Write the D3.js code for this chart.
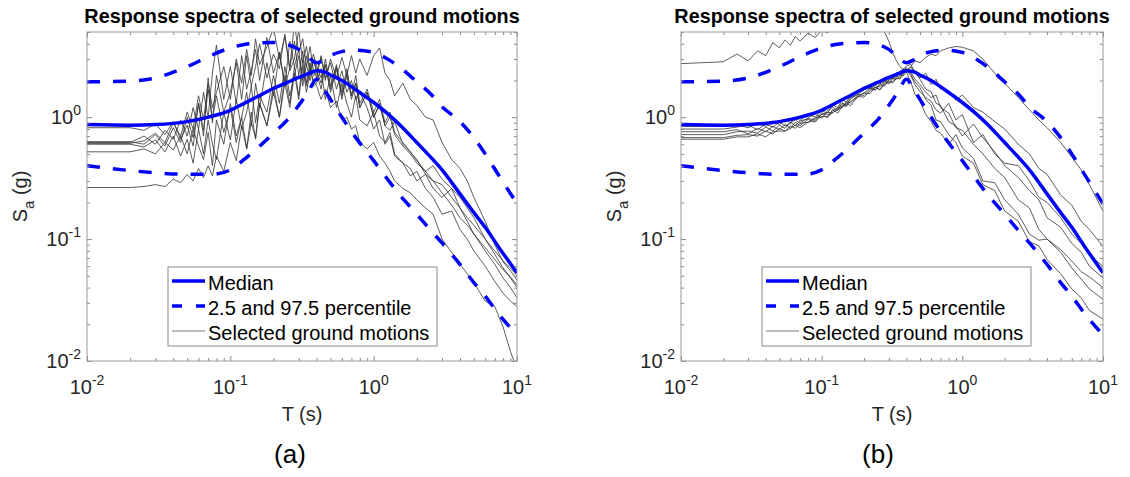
<!DOCTYPE html>
<html lang="en">
<head>
<meta charset="UTF-8">
<title>Response spectra of selected ground motions</title>
<script src="https://d3js.org/d3.v7.min.js"></script>
<style>
    body { margin: 0; background: #ffffff; }
    svg { display: block; font-family: "Liberation Sans", Arial, Helvetica, sans-serif; }
</style>
</head>
<body>
<div id="chart"></div>
<script>
// Periods (s) at which the record spectra of panel (a) are sampled
const periodsA = [0.01, 0.02, 0.025, 0.03, 0.035, 0.04, 0.045, 0.05, 0.055, 0.06,
    0.065, 0.07, 0.075, 0.08, 0.09, 0.1, 0.11, 0.12, 0.13, 0.14,
    0.15, 0.16, 0.18, 0.2, 0.22, 0.24, 0.26, 0.28, 0.3, 0.32,
    0.34, 0.36, 0.38, 0.4, 0.43, 0.46, 0.5, 0.55, 0.6, 0.65,
    0.7, 0.75, 0.8, 0.9, 1.0, 1.1, 1.2, 1.3, 1.4, 1.6,
    1.8, 2.0, 2.3, 2.6, 3.0, 3.5, 4.0, 4.5, 5.0, 6.0,
    7.0, 8.0, 9.0, 10.0];

// Periods (s) at which the record spectra of panel (b) are sampled
const periodsB = [0.01, 0.02, 0.025, 0.03, 0.035, 0.04, 0.045, 0.05, 0.055, 0.06,
    0.065, 0.07, 0.08, 0.09, 0.1, 0.11, 0.12, 0.13, 0.14, 0.15,
    0.16, 0.18, 0.2, 0.22, 0.24, 0.26, 0.28, 0.3, 0.32, 0.34,
    0.36, 0.38, 0.4, 0.43, 0.46, 0.5, 0.55, 0.6, 0.65, 0.7,
    0.8, 0.9, 1.0, 1.2, 1.4, 1.7, 2.0, 2.5, 3.0, 3.5,
    4.0, 5.0, 6.0, 7.0, 8.0, 10.0];

// Target spectrum (median and 2.5 / 97.5 percentiles)
const targetPeriods = [0.01, 0.02, 0.03, 0.05, 0.075, 0.1, 0.125, 0.15, 0.2, 0.25,
    0.3, 0.35, 0.4, 0.45, 0.5, 0.6, 0.75, 1, 1.25, 1.5,
    2, 2.5, 3, 4, 5, 6, 7.5, 10];
const medianSa = [0.87, 0.86, 0.87, 0.92, 1.02, 1.14, 1.30, 1.45, 1.72, 1.93,
    2.12, 2.28, 2.40, 2.36, 2.22, 2.0, 1.68, 1.32, 1.07, 0.88,
    0.62, 0.47, 0.37, 0.235, 0.165, 0.125, 0.085, 0.053];
const upperSa = [1.95, 1.98, 2.1, 2.6, 3.25, 3.7, 3.95, 4.05, 4.1, 3.95,
    3.6, 3.1, 2.8, 2.95, 3.2, 3.45, 3.55, 3.4, 3.0, 2.6,
    1.95, 1.55, 1.22, 0.92, 0.68, 0.5, 0.33, 0.195];
const lowerSa = [0.40, 0.365, 0.35, 0.34, 0.34, 0.37, 0.45, 0.54, 0.74, 0.95,
    1.25, 1.62, 2.05, 1.7, 1.4, 1.0, 0.68, 0.44, 0.31, 0.235,
    0.16, 0.118, 0.093, 0.062, 0.044, 0.034, 0.024, 0.0164];

// Selected ground motions, panel (a)
const motionsA = [
    [0.62,0.62,0.70,0.60,0.78,0.66,0.95,0.70,1.20,0.80, 1.60,1.00,2.30,3.90,1.40,2.60,1.30,3.20,1.70,2.40,
     3.60,2.00,4.50,2.30,3.40,1.80,4.20,2.60,3.60,2.00, 3.20,2.40,2.90,2.40,1.90,3.00,1.80,2.70,1.60,2.50,
     1.50,2.20,1.30,1.70,1.10,1.40,0.90,1.10,0.75,0.62, 0.52,0.45,0.34,0.30,0.24,0.19,0.15,0.13,0.11,0.085,
     0.068,0.056,0.049,0.042],
    [0.61,0.61,0.64,0.74,0.62,0.90,0.70,1.10,0.80,1.50, 0.95,1.90,1.20,1.60,2.60,1.40,3.00,1.90,3.60,2.20,
     4.40,2.70,3.80,5.40,3.00,4.60,2.60,5.80,3.40,4.40, 2.60,3.80,2.40,2.10,3.20,2.00,3.00,2.10,3.10,2.20,
     3.20,2.30,3.00,2.20,3.20,3.70,2.30,2.00,1.50,1.90, 1.40,1.25,1.00,0.95,0.62,0.45,0.38,0.30,0.22,0.14,
     0.09,0.065,0.055,0.046],
    [0.60,0.60,0.57,0.65,0.52,0.70,0.48,0.66,0.42,0.80, 0.50,0.95,0.60,0.45,1.10,0.65,1.40,0.80,1.10,1.80,
     0.90,1.50,1.10,2.20,1.30,2.60,1.50,2.20,3.20,1.80, 2.70,2.00,3.00,2.40,3.10,2.10,2.80,1.70,2.40,1.60,
     2.00,1.40,1.60,1.20,0.80,0.95,0.60,0.70,0.48,0.42, 0.33,0.36,0.26,0.22,0.16,0.17,0.12,0.10,0.08,0.06,
     0.045,0.036,0.031,0.028],
    [0.52,0.52,0.55,0.50,0.62,0.54,0.70,0.50,0.80,0.58, 0.45,0.75,0.40,0.95,0.60,1.30,0.70,1.00,1.60,0.85,
     1.90,1.20,2.80,1.50,3.40,1.80,2.50,4.20,2.20,3.50, 1.90,2.80,1.80,1.90,2.50,1.40,2.20,1.20,1.90,1.30,
     1.00,1.50,0.95,0.85,1.10,0.70,0.62,0.75,0.50,0.42, 0.38,0.30,0.34,0.26,0.22,0.26,0.18,0.14,0.11,0.08,
     0.062,0.048,0.040,0.033],
    [0.265,0.265,0.27,0.28,0.27,0.31,0.29,0.34,0.30,0.38, 0.32,0.40,0.33,0.48,0.36,0.62,0.44,0.85,0.55,1.10,
     0.66,1.30,0.85,1.60,1.00,1.90,1.20,2.30,1.40,2.60, 1.60,2.40,2.00,1.80,1.40,1.70,1.20,1.35,0.95,1.00,
     0.80,0.85,0.62,0.55,0.62,0.48,0.42,0.36,0.30,0.26, 0.24,0.21,0.18,0.16,0.10,0.078,0.062,0.052,0.044,0.031,
     0.028,0.019,0.012,0.0085],
    [0.63,0.63,0.60,0.72,0.58,0.82,0.62,1.00,0.68,1.30, 0.78,1.70,0.90,2.20,1.10,1.60,2.80,1.40,3.20,1.80,
     2.60,4.00,2.10,3.30,2.50,4.80,2.40,3.00,5.20,2.80, 3.80,2.40,3.30,2.60,2.10,2.70,1.70,2.60,1.50,2.30,
     1.40,1.90,1.20,1.60,1.00,1.30,0.85,0.78,0.92,0.60, 0.52,0.44,0.36,0.40,0.31,0.26,0.22,0.18,0.15,0.10,
     0.075,0.058,0.048,0.040],
    [0.82,0.82,0.78,0.88,0.72,0.92,0.66,0.86,0.58,1.30, 0.70,2.10,0.95,1.50,0.75,1.20,0.62,1.00,0.55,0.90,
     0.68,1.30,0.85,1.80,1.00,2.20,1.30,2.60,1.50,2.90, 1.80,2.50,2.20,2.30,1.70,2.70,1.60,2.50,1.40,2.20,
     1.50,1.90,1.20,1.60,1.00,1.25,0.85,1.00,0.72,0.58, 0.50,0.42,0.36,0.30,0.28,0.22,0.18,0.15,0.13,0.10,
     0.08,0.066,0.058,0.050]
];

// Selected ground motions, panel (b)
const motionsB = [
    [2.75,2.85,3.3,2.9,3.5,3.2,4.1,3.7,4.3,3.9, 4.6,4.2,4.9,4.5,5.2,4.9,5.5,5.3,5.8,6.2,
     6.5,7.0,6.8,6.5,6.5,6.0,5.0,4.2,3.4,2.9, 2.6,2.45,2.35,2.6,2.9,2.8,3.1,3.3,3.2,3.5,
     3.7,3.8,3.75,3.5,3.0,2.3,1.9,1.45,1.15,0.95, 0.82,0.62,0.47,0.37,0.28,0.17],
    [0.84,0.84,0.87,0.82,0.89,0.84,0.93,0.87,0.96,0.90, 0.99,0.94,1.06,1.00,1.13,1.08,1.26,1.20,1.39,1.33,
     1.50,1.64,1.78,1.72,1.96,1.90,2.05,2.15,2.05,2.32, 2.20,2.48,2.40,2.60,2.30,2.10,2.30,1.85,2.05,1.70,
     1.62,1.38,1.52,1.20,1.10,0.92,0.80,0.60,0.50,0.38, 0.34,0.23,0.19,0.14,0.12,0.087],
    [0.80,0.80,0.83,0.86,0.79,0.88,0.83,0.91,0.85,0.89, 0.95,0.89,0.99,1.06,0.98,1.13,1.21,1.13,1.31,1.26,
     1.44,1.53,1.68,1.78,1.68,1.88,1.98,1.88,2.08,2.18, 2.08,2.32,2.45,2.20,1.85,1.62,1.45,1.35,1.15,1.08,
     1.30,0.95,1.05,0.62,0.72,0.50,0.42,0.40,0.30,0.22, 0.20,0.15,0.11,0.092,0.074,0.060],
    [0.76,0.76,0.79,0.73,0.81,0.76,0.84,0.79,0.87,0.81, 0.91,0.85,0.96,0.91,1.06,0.99,1.16,1.08,1.23,1.31,
     1.24,1.46,1.58,1.56,1.76,1.68,1.92,1.98,1.96,2.14, 2.30,2.18,2.35,1.95,1.55,1.35,1.05,0.92,0.78,0.74,
     0.60,0.72,0.56,0.46,0.30,0.29,0.21,0.16,0.11,0.098, 0.10,0.082,0.066,0.054,0.049,0.040],
    [0.72,0.72,0.76,0.77,0.74,0.83,0.77,0.86,0.81,0.91, 0.85,0.93,0.97,0.96,1.09,1.04,1.13,1.19,1.19,1.34,
     1.31,1.48,1.46,1.64,1.76,1.68,1.86,1.93,1.91,2.08, 2.06,2.24,2.50,2.35,2.05,1.85,1.60,1.45,1.52,1.20,
     1.08,0.82,0.78,0.60,0.50,0.38,0.32,0.21,0.18,0.12, 0.10,0.078,0.058,0.047,0.039,0.032],
    [0.68,0.68,0.71,0.72,0.70,0.77,0.73,0.81,0.77,0.85, 0.81,0.89,0.91,0.99,1.01,1.01,1.09,1.16,1.24,1.23,
     1.34,1.49,1.58,1.73,1.66,1.86,1.80,2.02,2.08,2.06, 2.18,2.42,2.55,2.25,1.95,1.75,1.40,1.25,0.95,0.92,
     0.72,0.62,0.48,0.42,0.28,0.25,0.17,0.14,0.095,0.088, 0.068,0.052,0.039,0.033,0.026,0.022],
    [0.66,0.66,0.69,0.69,0.73,0.69,0.76,0.77,0.77,0.81, 0.86,0.82,0.91,0.94,1.06,1.09,1.09,1.19,1.29,1.24,
     1.41,1.54,1.51,1.69,1.81,1.77,1.96,2.04,2.21,2.14, 2.36,2.48,2.62,2.72,2.35,2.05,1.70,1.62,1.30,1.25,
     0.92,0.85,0.70,0.88,0.68,0.52,0.40,0.32,0.25,0.21, 0.15,0.125,0.092,0.078,0.060,0.048]
];

const xDomain = [0.01, 10];
const yDomain = [0.01, 5];
const xTickLabels = [0.01, 0.1, 1, 10];
const yTickLabels = [0.01, 0.1, 1];
const legendLabels = ["Median", "2.5 and 97.5 percentile", "Selected ground motions"];
const titleText = "Response spectra of selected ground motions";
const xAxisTitle = "T (s)";
const panelTags = ["(a)", "(b)"];

// Layout
const W = 1130, H = 477;
const plotTop = 32, plotBottom = 361;
const blue = "#0000ff";
const panels = [
    { left: 87, right: 517, periods: periodsA, motions: motionsA, tag: panelTags[0], tagX: 290 },
    { left: 681, right: 1103, periods: periodsB, motions: motionsB, tag: panelTags[1], tagX: 878 }
];

const svg = d3.select("#chart")
    .append("svg")
    .attr("width", W)
    .attr("height", H);

const isMajor = v => Math.abs(Math.log10(v) - Math.round(Math.log10(v))) < 1e-9;

panels.forEach((p, i) => {
    const x = d3.scaleLog().domain(xDomain).range([p.left, p.right]);
    const y = d3.scaleLog().domain(yDomain).range([plotBottom, plotTop]);
    const g = svg.append("g");

    g.append("clipPath").attr("id", "clip" + i)
        .append("rect")
        .attr("x", p.left).attr("y", plotTop)
        .attr("width", p.right - p.left).attr("height", plotBottom - plotTop);

    const plot = g.append("g").attr("clip-path", `url(#clip${i})`);
    const line = d3.line().x(d => x(d[0])).y(d => y(d[1]));
    const smooth = d3.line().x(d => x(d[0])).y(d => y(d[1])).curve(d3.curveMonotoneX);

    // ground motion spectra
    p.motions.forEach(rec => {
        plot.append("path")
            .datum(p.periods.map((t, k) => [t, rec[k]]))
            .attr("d", line)
            .attr("fill", "none")
            .attr("stroke", "#333333")
            .attr("stroke-width", 0.8)
            .attr("stroke-linejoin", "round");
    });

    // percentiles
    [upperSa, lowerSa].forEach(s => {
        plot.append("path")
            .datum(targetPeriods.map((t, k) => [t, s[k]]))
            .attr("d", smooth)
            .attr("fill", "none")
            .attr("stroke", blue)
            .attr("stroke-width", 3.5)
            .attr("stroke-dasharray", "13,13");
    });

    // median
    plot.append("path")
        .datum(targetPeriods.map((t, k) => [t, medianSa[k]]))
        .attr("d", smooth)
        .attr("fill", "none")
        .attr("stroke", blue)
        .attr("stroke-width", 3.5);

    // ticks on all four sides, pointing inward
    const xt = x.ticks(), yt = y.ticks();
    const tickAxis = (axis, vals, size, transform) => {
        g.append("g")
            .attr("transform", transform)
            .call(axis.tickValues(vals).tickSize(-size).tickFormat(""))
            .call(a => a.select(".domain").remove())
            .call(a => a.selectAll(".tick line").attr("stroke", "#8a8a8a"));
    };
    [[xt.filter(isMajor), 5], [xt.filter(v => !isMajor(v)), 3]].forEach(([vals, s]) => {
        tickAxis(d3.axisBottom(x), vals, s, `translate(0,${plotBottom})`);
        tickAxis(d3.axisTop(x), vals, s, `translate(0,${plotTop})`);
    });
    [[yt.filter(isMajor), 5], [yt.filter(v => !isMajor(v)), 3]].forEach(([vals, s]) => {
        tickAxis(d3.axisLeft(y), vals, s, `translate(${p.left},0)`);
        tickAxis(d3.axisRight(y), vals, s, `translate(${p.right},0)`);
    });

    // frame
    g.append("rect")
        .attr("x", p.left).attr("y", plotTop)
        .attr("width", p.right - p.left).attr("height", plotBottom - plotTop)
        .attr("fill", "none")
        .attr("stroke", "#9a9a9a")
        .attr("stroke-width", 1);

    // x tick labels
    xTickLabels.forEach(v => {
        const t = g.append("text")
            .attr("x", x(v)).attr("y", 394)
            .attr("text-anchor", "middle")
            .attr("fill", "#262626")
            .style("font-size", "20px");
        t.append("tspan").text("10");
        t.append("tspan").attr("dy", -9).style("font-size", "14px").text(Math.round(Math.log10(v)));
    });

    // y tick labels
    yTickLabels.forEach(v => {
        const t = g.append("text")
            .attr("x", p.left - 6).attr("y", y(v) + 7)
            .attr("text-anchor", "end")
            .attr("fill", "#262626")
            .style("font-size", "20px");
        t.append("tspan").text("10");
        t.append("tspan").attr("dy", -9).style("font-size", "14px").text(Math.round(Math.log10(v)));
    });

    // axis titles
    g.append("text")
        .attr("x", (p.left + p.right) / 2).attr("y", 421)
        .attr("text-anchor", "middle")
        .attr("fill", "#262626")
        .style("font-size", "20px")
        .text(xAxisTitle);

    const yl = g.append("text")
        .attr("transform", `translate(${p.left - 60},${(plotTop + plotBottom) / 2}) rotate(-90)`)
        .attr("text-anchor", "middle")
        .attr("fill", "#262626")
        .style("font-size", "20px");
    yl.append("tspan").text("S");
    yl.append("tspan").attr("dy", 7).style("font-size", "15px").text("a");
    yl.append("tspan").attr("dy", -7).text(" (g)");

    // title
    g.append("text")
        .attr("x", (p.left + p.right) / 2).attr("y", 22.5)
        .attr("text-anchor", "middle")
        .style("font-size", "19.8px")
        .style("font-weight", "bold")
        .text(titleText);

    // legend
    const lx = p.left + 81, ly = 267;
    const lg = g.append("g");
    lg.append("rect")
        .attr("x", lx).attr("y", ly)
        .attr("width", 269).attr("height", 79)
        .attr("fill", "#ffffff")
        .attr("stroke", "#8a8a8a")
        .attr("stroke-width", 1);
    const rows = [
        { stroke: blue, width: 3.5, dash: null },
        { stroke: blue, width: 3.5, dash: "10,14" },
        { stroke: "#555555", width: 0.8, dash: null }
    ];
    rows.forEach((r, k) => {
        const cy = ly + 14 + k * 25;
        lg.append("line")
            .attr("x1", lx + 4).attr("x2", lx + 37)
            .attr("y1", cy).attr("y2", cy)
            .attr("stroke", r.stroke)
            .attr("stroke-width", r.width)
            .attr("stroke-dasharray", r.dash);
        lg.append("text")
            .attr("x", lx + 40).attr("y", cy + 8.5)
            .style("font-size", "20px")
            .attr("fill", "#000")
            .text(legendLabels[k]);
    });

    // panel tag
    svg.append("text")
        .attr("x", p.tagX).attr("y", 463)
        .attr("text-anchor", "middle")
        .style("font-size", "26px")
        .text(p.tag);
});
</script>
</body>
</html>
